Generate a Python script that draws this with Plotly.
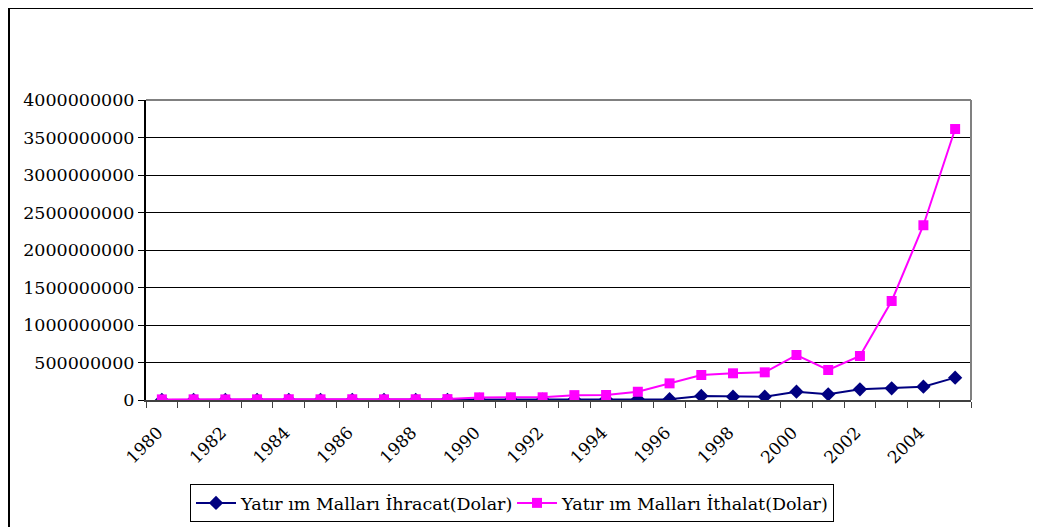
import plotly.graph_objects as go

years = list(range(1980, 2006))
ihracat = [1e6, 1e6, 1e6, 1e6, 1e6, 1e6, 1e6, 1e6, 1e6, 2e6,
           3e6, 3e6, 4e6, 6e6, 9e6, 9e6, 10e6, 53e6, 44e6, 44e6,
           111e6, 76e6, 142e6, 156e6, 178e6, 298e6]
ithalat = [8e6, 9e6, 8e6, 9e6, 10e6, 9e6, 10e6, 9e6, 10e6, 12e6,
           35e6, 36e6, 36e6, 65e6, 67e6, 110e6, 222e6, 333e6, 356e6, 369e6,
           600e6, 400e6, 587e6, 1320e6, 2330e6, 3613e6]
name_ihr = "Yatır ım Malları İhracat(Dolar)"
name_ith = "Yatır ım Malları İthalat(Dolar)"
y_ticks = [0, 500000000, 1000000000, 1500000000, 2000000000, 2500000000,
           3000000000, 3500000000, 4000000000]

FONT = "DejaVu Serif"
FS = 17

fig = go.Figure()
fig.add_trace(go.Scatter(
    x=years, y=ihracat, name=name_ihr, mode="lines+markers",
    line=dict(color="#000080", width=2),
    marker=dict(symbol="diamond", size=11, color="#000080"),
))
fig.add_trace(go.Scatter(
    x=years, y=ithalat, name=name_ith, mode="lines+markers",
    line=dict(color="#FF00FF", width=2),
    marker=dict(symbol="square", size=10, color="#FF00FF"),
))

# page body has an 8px margin; compensate so the plot lands at screen coords
OFF = 8
L, T = 146 - OFF, 100 - OFF
pw, ph = 825, 300
W, H = 1041 - OFF, 580
R, B = W - L - pw, H - T - ph

fig.update_layout(
    width=W, height=H,
    margin=dict(l=L, r=R, t=T, b=B, pad=0),
    paper_bgcolor="white", plot_bgcolor="white",
    font=dict(family=FONT, color="black", size=FS),
    showlegend=True,
    legend=dict(
        orientation="h", x=(190 - 146) / pw, y=-84 / ph,
        xanchor="left", yanchor="top",
        bordercolor="black", borderwidth=1,
        font=dict(family=FONT, size=17.5, color="black"),
        entrywidth=266, itemwidth=40,
    ),
    xaxis=dict(
        range=[1979.5, 2005.5], tick0=1980, dtick=2, tickangle=-45,
        ticks="", showgrid=False, zeroline=False,
        showline=True, linecolor="#404040", linewidth=2,
        ticklabelstandoff=14, ticklabelshift=-4,
        tickfont=dict(family=FONT, size=FS, color="black"),
        minor=dict(ticks="outside", tick0=1979.5, dtick=1, ticklen=6,
                   tickcolor="#404040", tickwidth=1, showgrid=False),
    ),
    yaxis=dict(
        range=[0, 4e9], tickvals=y_ticks, tickformat="d",
        ticks="outside", ticklen=6, tickcolor="black",
        showgrid=True, gridcolor="black", gridwidth=1, zeroline=False,
        showline=True, linecolor="black", linewidth=2,
        tickfont=dict(family=FONT, size=17.5, color="black"),
    ),
    shapes=[
        dict(type="line", xref="paper", yref="paper", x0=1, x1=1, y0=0, y1=1,
             line=dict(color="#808080", width=2), layer="above"),
        dict(type="line", xref="paper", yref="paper", x0=0, x1=1, y0=1, y1=1,
             line=dict(color="#808080", width=2), layer="above"),
        dict(type="rect", xref="paper", yref="paper",
             x0=(1 - L) / pw, x1=(W + 20 - L) / pw,
             y0=(T + ph - (H + 20)) / ph, y1=(T + ph - 0) / ph,
             line=dict(color="black", width=2), layer="above"),
    ],
)

fig.write_html("out.html")
